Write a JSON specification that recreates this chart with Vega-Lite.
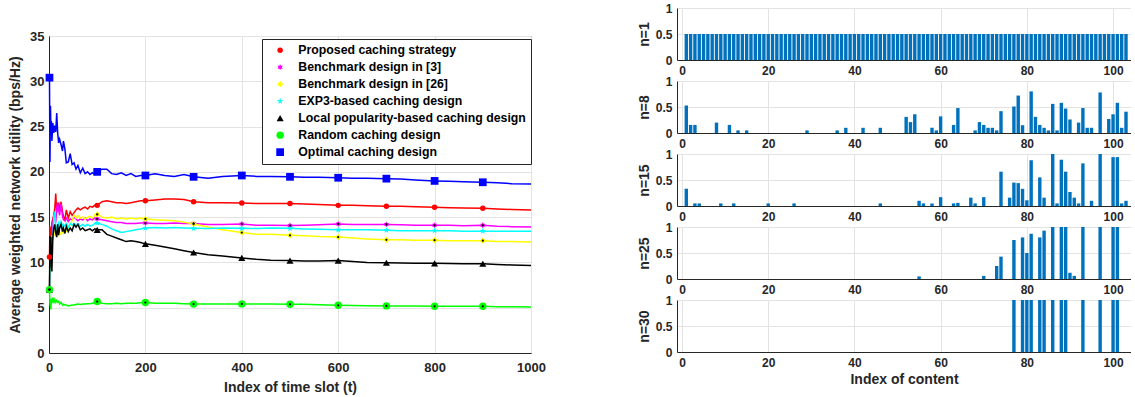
{
  "$schema": "https://vega.github.io/schema/vega-lite/v6.json",
  "padding": {"left": 8, "top": 2, "right": 0, "bottom": 0},
  "background": "white",
  "config": {
    "font": "Liberation Sans",
    "view": {"stroke": null},
    "axis": {
      "labelFont": "Liberation Sans", "labelFontWeight": "bold", "labelFontSize": 12, "labelColor": "#262626",
      "titleFont": "Liberation Sans", "titleFontWeight": "bold", "titleFontSize": 14, "titleColor": "#262626",
      "gridColor": "#e3e3e3", "domainColor": "#262626", "ticks": false, "labelPadding": 5,
      "labelFlush": false, "labelOverlap": false
    },
    "legend": {"labelFont": "Liberation Sans", "labelFontWeight": "bold", "labelFontSize": 12.3, "labelColor": "#000000", "labelLimit": 0}
  },
  "datasets": {
    "util": [
      {"t":1,"p":10.6,"b3":7,"b26":7,"e":7,"l":7,"r":7,"o":30.4},
      {"t":2,"p":14.0,"b3":10,"b26":9,"e":9.5,"l":12.9,"r":5.5,"o":21.1},
      {"t":3,"p":12.5,"b3":12,"b26":11.5,"e":12,"l":10.5,"r":5.2,"o":27.3},
      {"t":4,"p":13.8,"b3":11.2,"b26":12.5,"e":11,"l":12.8,"r":4.8,"o":24.5},
      {"t":5,"p":12.2,"b3":12.5,"b26":11,"e":12.5,"l":9.5,"r":6.0,"o":25.6},
      {"t":6,"p":14.4,"b3":13.0,"b26":12.0,"e":13.0,"l":9.0,"r":5.5,"o":23.4},
      {"t":8,"p":14.8,"b3":14.0,"b26":12.7,"e":12.5,"l":12.8,"r":6.1,"o":25.4},
      {"t":10,"p":15.2,"b3":15.5,"b26":13.0,"e":15.0,"l":13.8,"r":5.5,"o":24.3},
      {"t":12,"p":16.0,"b3":15.0,"b26":13.4,"e":15.6,"l":14.2,"r":5.9,"o":25.1},
      {"t":14,"p":17.6,"b3":14.4,"b26":14.0,"e":14.0,"l":13.2,"r":5.6,"o":24.4},
      {"t":16,"p":15.5,"b3":16.0,"b26":13.2,"e":13.2,"l":12.8,"r":5.8,"o":26.5},
      {"t":18,"p":16.3,"b3":16.6,"b26":13.0,"e":14.2,"l":14.2,"r":5.6,"o":24.3},
      {"t":20,"p":16.6,"b3":15.8,"b26":13.8,"e":14.4,"l":13.0,"r":5.7,"o":23.2},
      {"t":22,"p":15.8,"b3":15.2,"b26":13.3,"e":13.8,"l":13.8,"r":5.4,"o":23.6},
      {"t":25,"p":16.7,"b3":16.5,"b26":13.1,"e":14.5,"l":14.2,"r":5.6,"o":23.0},
      {"t":28,"p":15.6,"b3":15.1,"b26":13.6,"e":14.0,"l":13.4,"r":5.3,"o":22.3},
      {"t":30,"p":15.1,"b3":14.7,"b26":13.2,"e":14.2,"l":13.8,"r":5.4,"o":23.4},
      {"t":33,"p":14.7,"b3":14.6,"b26":13.5,"e":14.0,"l":13.2,"r":5.3,"o":22.5},
      {"t":36,"p":15.8,"b3":14.9,"b26":13.4,"e":14.3,"l":14.0,"r":5.3,"o":21.0},
      {"t":40,"p":14.9,"b3":14.5,"b26":13.8,"e":13.9,"l":13.4,"r":5.2,"o":21.1},
      {"t":44,"p":15.6,"b3":14.8,"b26":14.2,"e":14.3,"l":13.8,"r":5.25,"o":22.0},
      {"t":48,"p":15.2,"b3":14.7,"b26":14.6,"e":14.1,"l":13.5,"r":5.3,"o":20.8},
      {"t":52,"p":15.5,"b3":15.0,"b26":15.2,"e":14.3,"l":14.2,"r":5.3,"o":21.0},
      {"t":56,"p":15.8,"b3":14.8,"b26":14.9,"e":14.1,"l":13.9,"r":5.35,"o":20.3},
      {"t":60,"p":16.0,"b3":14.6,"b26":15.2,"e":14.3,"l":14.2,"r":5.4,"o":20.7},
      {"t":65,"p":15.8,"b3":14.8,"b26":14.9,"e":14.0,"l":13.6,"r":5.35,"o":19.9},
      {"t":70,"p":16.0,"b3":14.7,"b26":15.0,"e":14.2,"l":13.8,"r":5.4,"o":20.4},
      {"t":75,"p":16.1,"b3":14.9,"b26":14.8,"e":14.0,"l":13.5,"r":5.4,"o":19.8},
      {"t":80,"p":15.9,"b3":14.6,"b26":15.0,"e":14.2,"l":13.6,"r":5.45,"o":20.0},
      {"t":85,"p":16.2,"b3":14.8,"b26":15.1,"e":14.0,"l":13.7,"r":5.45,"o":19.7},
      {"t":90,"p":16.1,"b3":14.7,"b26":14.9,"e":14.1,"l":13.5,"r":5.5,"o":19.9},
      {"t":95,"p":16.3,"b3":14.9,"b26":15.2,"e":14.3,"l":13.7,"r":5.55,"o":19.7},
      {"t":100,"p":16.3,"b3":14.8,"b26":15.3,"e":14.35,"l":13.6,"r":5.68,"o":20.0},
      {"t":110,"p":16.7,"b3":14.7,"b26":15.0,"e":14.2,"l":13.6,"r":5.5,"o":20.3},
      {"t":120,"p":16.8,"b3":14.6,"b26":14.9,"e":14.0,"l":13.1,"r":5.45,"o":20.3},
      {"t":130,"p":16.7,"b3":14.5,"b26":15.0,"e":13.7,"l":12.9,"r":5.45,"o":19.8},
      {"t":140,"p":16.6,"b3":14.4,"b26":14.8,"e":13.5,"l":12.7,"r":5.5,"o":19.7},
      {"t":150,"p":16.6,"b3":14.4,"b26":14.9,"e":13.3,"l":12.5,"r":5.45,"o":19.9},
      {"t":160,"p":16.5,"b3":14.3,"b26":14.8,"e":13.4,"l":12.3,"r":5.5,"o":19.6},
      {"t":170,"p":16.6,"b3":14.3,"b26":14.9,"e":13.5,"l":12.4,"r":5.5,"o":19.8},
      {"t":180,"p":16.7,"b3":14.3,"b26":14.8,"e":13.6,"l":12.3,"r":5.5,"o":19.5},
      {"t":190,"p":16.8,"b3":14.35,"b26":14.9,"e":13.7,"l":12.2,"r":5.55,"o":19.6},
      {"t":200,"p":16.8,"b3":14.35,"b26":14.8,"e":13.8,"l":12.05,"r":5.57,"o":19.6},
      {"t":220,"p":16.9,"b3":14.3,"b26":14.7,"e":13.85,"l":11.9,"r":5.5,"o":19.8},
      {"t":240,"p":17.0,"b3":14.3,"b26":14.65,"e":13.8,"l":11.7,"r":5.5,"o":19.6},
      {"t":260,"p":17.0,"b3":14.35,"b26":14.6,"e":13.85,"l":11.5,"r":5.48,"o":19.5},
      {"t":280,"p":16.95,"b3":14.3,"b26":14.45,"e":13.8,"l":11.3,"r":5.45,"o":19.7},
      {"t":300,"p":16.7,"b3":14.3,"b26":14.25,"e":13.77,"l":11.1,"r":5.4,"o":19.45},
      {"t":330,"p":16.6,"b3":14.2,"b26":13.9,"e":13.75,"l":10.85,"r":5.4,"o":19.3},
      {"t":360,"p":16.6,"b3":14.2,"b26":13.6,"e":13.8,"l":10.7,"r":5.4,"o":19.5},
      {"t":400,"p":16.55,"b3":14.25,"b26":13.3,"e":13.77,"l":10.5,"r":5.42,"o":19.6},
      {"t":430,"p":16.5,"b3":14.1,"b26":13.1,"e":13.75,"l":10.35,"r":5.4,"o":19.5},
      {"t":460,"p":16.5,"b3":14.1,"b26":13.1,"e":13.8,"l":10.25,"r":5.4,"o":19.5},
      {"t":500,"p":16.5,"b3":14.07,"b26":13.0,"e":13.77,"l":10.2,"r":5.38,"o":19.45},
      {"t":530,"p":16.45,"b3":14.1,"b26":12.95,"e":13.7,"l":10.15,"r":5.38,"o":19.4},
      {"t":560,"p":16.4,"b3":14.15,"b26":12.85,"e":13.65,"l":10.15,"r":5.32,"o":19.4},
      {"t":600,"p":16.3,"b3":14.25,"b26":12.8,"e":13.6,"l":10.2,"r":5.27,"o":19.35},
      {"t":630,"p":16.3,"b3":14.2,"b26":12.7,"e":13.6,"l":10.1,"r":5.25,"o":19.3},
      {"t":660,"p":16.25,"b3":14.2,"b26":12.6,"e":13.6,"l":10.0,"r":5.22,"o":19.3},
      {"t":700,"p":16.2,"b3":14.2,"b26":12.5,"e":13.55,"l":9.96,"r":5.2,"o":19.25},
      {"t":730,"p":16.2,"b3":14.15,"b26":12.5,"e":13.5,"l":9.95,"r":5.2,"o":19.2},
      {"t":760,"p":16.15,"b3":14.1,"b26":12.45,"e":13.5,"l":9.92,"r":5.18,"o":19.1},
      {"t":800,"p":16.1,"b3":14.1,"b26":12.45,"e":13.5,"l":9.9,"r":5.16,"o":19.0},
      {"t":830,"p":16.05,"b3":14.1,"b26":12.4,"e":13.5,"l":9.88,"r":5.16,"o":18.95},
      {"t":860,"p":16.0,"b3":14.05,"b26":12.4,"e":13.45,"l":9.86,"r":5.15,"o":18.9},
      {"t":900,"p":15.97,"b3":14.1,"b26":12.4,"e":13.45,"l":9.85,"r":5.16,"o":18.85},
      {"t":930,"p":15.9,"b3":14.0,"b26":12.3,"e":13.45,"l":9.78,"r":5.12,"o":18.8},
      {"t":960,"p":15.85,"b3":13.95,"b26":12.3,"e":13.45,"l":9.72,"r":5.1,"o":18.7},
      {"t":1000,"p":15.8,"b3":13.9,"b26":12.25,"e":13.45,"l":9.67,"r":5.09,"o":18.65}
    ],
    "bars": [
      {"n":1,"i":1,"v":0.5},{"n":1,"i":2,"v":0.5},{"n":1,"i":3,"v":0.5},{"n":1,"i":4,"v":0.5},{"n":1,"i":5,"v":0.5},{"n":1,"i":6,"v":0.5},{"n":1,"i":7,"v":0.5},{"n":1,"i":8,"v":0.5},{"n":1,"i":9,"v":0.5},{"n":1,"i":10,"v":0.5},
      {"n":1,"i":11,"v":0.5},{"n":1,"i":12,"v":0.5},{"n":1,"i":13,"v":0.5},{"n":1,"i":14,"v":0.5},{"n":1,"i":15,"v":0.5},{"n":1,"i":16,"v":0.5},{"n":1,"i":17,"v":0.5},{"n":1,"i":18,"v":0.5},{"n":1,"i":19,"v":0.5},{"n":1,"i":20,"v":0.5},
      {"n":1,"i":21,"v":0.5},{"n":1,"i":22,"v":0.5},{"n":1,"i":23,"v":0.5},{"n":1,"i":24,"v":0.5},{"n":1,"i":25,"v":0.5},{"n":1,"i":26,"v":0.5},{"n":1,"i":27,"v":0.5},{"n":1,"i":28,"v":0.5},{"n":1,"i":29,"v":0.5},{"n":1,"i":30,"v":0.5},
      {"n":1,"i":31,"v":0.5},{"n":1,"i":32,"v":0.5},{"n":1,"i":33,"v":0.5},{"n":1,"i":34,"v":0.5},{"n":1,"i":35,"v":0.5},{"n":1,"i":36,"v":0.5},{"n":1,"i":37,"v":0.5},{"n":1,"i":38,"v":0.5},{"n":1,"i":39,"v":0.5},{"n":1,"i":40,"v":0.5},
      {"n":1,"i":41,"v":0.5},{"n":1,"i":42,"v":0.5},{"n":1,"i":43,"v":0.5},{"n":1,"i":44,"v":0.5},{"n":1,"i":45,"v":0.5},{"n":1,"i":46,"v":0.5},{"n":1,"i":47,"v":0.5},{"n":1,"i":48,"v":0.5},{"n":1,"i":49,"v":0.5},{"n":1,"i":50,"v":0.5},
      {"n":1,"i":51,"v":0.5},{"n":1,"i":52,"v":0.5},{"n":1,"i":53,"v":0.5},{"n":1,"i":54,"v":0.5},{"n":1,"i":55,"v":0.5},{"n":1,"i":56,"v":0.5},{"n":1,"i":57,"v":0.5},{"n":1,"i":58,"v":0.5},{"n":1,"i":59,"v":0.5},{"n":1,"i":60,"v":0.5},
      {"n":1,"i":61,"v":0.5},{"n":1,"i":62,"v":0.5},{"n":1,"i":63,"v":0.5},{"n":1,"i":64,"v":0.5},{"n":1,"i":65,"v":0.5},{"n":1,"i":66,"v":0.5},{"n":1,"i":67,"v":0.5},{"n":1,"i":68,"v":0.5},{"n":1,"i":69,"v":0.5},{"n":1,"i":70,"v":0.5},
      {"n":1,"i":71,"v":0.5},{"n":1,"i":72,"v":0.5},{"n":1,"i":73,"v":0.5},{"n":1,"i":74,"v":0.5},{"n":1,"i":75,"v":0.5},{"n":1,"i":76,"v":0.5},{"n":1,"i":77,"v":0.5},{"n":1,"i":78,"v":0.5},{"n":1,"i":79,"v":0.5},{"n":1,"i":80,"v":0.5},
      {"n":1,"i":81,"v":0.5},{"n":1,"i":82,"v":0.5},{"n":1,"i":83,"v":0.5},{"n":1,"i":84,"v":0.5},{"n":1,"i":85,"v":0.5},{"n":1,"i":86,"v":0.5},{"n":1,"i":87,"v":0.5},{"n":1,"i":88,"v":0.5},{"n":1,"i":89,"v":0.5},{"n":1,"i":90,"v":0.5},
      {"n":1,"i":91,"v":0.5},{"n":1,"i":92,"v":0.5},{"n":1,"i":93,"v":0.5},{"n":1,"i":94,"v":0.5},{"n":1,"i":95,"v":0.5},{"n":1,"i":96,"v":0.5},{"n":1,"i":97,"v":0.5},{"n":1,"i":98,"v":0.5},{"n":1,"i":99,"v":0.5},{"n":1,"i":100,"v":0.5},
      {"n":1,"i":101,"v":0.5},{"n":1,"i":102,"v":0.5},{"n":1,"i":103,"v":0.5},
      {"n":8,"i":1,"v":0.53},{"n":8,"i":2,"v":0.155},{"n":8,"i":3,"v":0.155},{"n":8,"i":8,"v":0.2},{"n":8,"i":11,"v":0.155},{"n":8,"i":13,"v":0.05},{"n":8,"i":15,"v":0.05},{"n":8,"i":29,"v":0.05},{"n":8,"i":36,"v":0.05},{"n":8,"i":38,"v":0.1},
      {"n":8,"i":42,"v":0.1},{"n":8,"i":46,"v":0.1},{"n":8,"i":52,"v":0.31},{"n":8,"i":53,"v":0.21},{"n":8,"i":54,"v":0.36},{"n":8,"i":58,"v":0.1},{"n":8,"i":59,"v":0.05},{"n":8,"i":60,"v":0.32},{"n":8,"i":63,"v":0.155},{"n":8,"i":64,"v":0.48},
      {"n":8,"i":68,"v":0.05},{"n":8,"i":69,"v":0.21},{"n":8,"i":70,"v":0.155},{"n":8,"i":71,"v":0.1},{"n":8,"i":72,"v":0.1},{"n":8,"i":73,"v":0.05},{"n":8,"i":74,"v":0.42},{"n":8,"i":77,"v":0.51},{"n":8,"i":78,"v":0.72},{"n":8,"i":79,"v":0.15},
      {"n":8,"i":81,"v":0.8},{"n":8,"i":82,"v":0.31},{"n":8,"i":83,"v":0.155},{"n":8,"i":84,"v":0.1},{"n":8,"i":85,"v":0.05},{"n":8,"i":86,"v":0.56},{"n":8,"i":87,"v":0.05},{"n":8,"i":88,"v":0.58},{"n":8,"i":89,"v":0.47},{"n":8,"i":90,"v":0.26},
      {"n":8,"i":92,"v":0.2},{"n":8,"i":93,"v":0.48},{"n":8,"i":94,"v":0.1},{"n":8,"i":95,"v":0.1},{"n":8,"i":97,"v":0.78},{"n":8,"i":99,"v":0.27},{"n":8,"i":100,"v":0.36},{"n":8,"i":101,"v":0.58},{"n":8,"i":102,"v":0.1},{"n":8,"i":103,"v":0.41},
      {"n":15,"i":1,"v":0.33},{"n":15,"i":3,"v":0.05},{"n":15,"i":4,"v":0.05},{"n":15,"i":9,"v":0.05},{"n":15,"i":12,"v":0.05},{"n":15,"i":20,"v":0.05},{"n":15,"i":26,"v":0.05},{"n":15,"i":46,"v":0.05},{"n":15,"i":55,"v":0.1},{"n":15,"i":56,"v":0.05},
      {"n":15,"i":58,"v":0.05},{"n":15,"i":60,"v":0.17},{"n":15,"i":63,"v":0.05},{"n":15,"i":64,"v":0.06},{"n":15,"i":67,"v":0.16},{"n":15,"i":68,"v":0.05},{"n":15,"i":70,"v":0.17},{"n":15,"i":74,"v":0.66},{"n":15,"i":76,"v":0.16},{"n":15,"i":77,"v":0.45},
      {"n":15,"i":78,"v":0.44},{"n":15,"i":79,"v":0.33},{"n":15,"i":80,"v":0.11},{"n":15,"i":81,"v":0.88},{"n":15,"i":83,"v":0.55},{"n":15,"i":84,"v":0.16},{"n":15,"i":86,"v":1},{"n":15,"i":87,"v":0.05},{"n":15,"i":88,"v":0.89},{"n":15,"i":89,"v":0.66},
      {"n":15,"i":90,"v":0.27},{"n":15,"i":91,"v":0.16},{"n":15,"i":92,"v":0.05},{"n":15,"i":93,"v":0.82},{"n":15,"i":95,"v":0.1},{"n":15,"i":97,"v":1},{"n":15,"i":100,"v":0.94},{"n":15,"i":101,"v":0.94},{"n":15,"i":102,"v":0.05},{"n":15,"i":103,"v":0.1},
      {"n":25,"i":55,"v":0.05},{"n":25,"i":70,"v":0.06},{"n":25,"i":73,"v":0.25},{"n":25,"i":74,"v":0.43},{"n":25,"i":77,"v":0.75},{"n":25,"i":79,"v":0.8},{"n":25,"i":80,"v":0.5},{"n":25,"i":81,"v":0.87},{"n":25,"i":83,"v":0.8},{"n":25,"i":84,"v":0.93},
      {"n":25,"i":86,"v":1},{"n":25,"i":88,"v":1},{"n":25,"i":89,"v":1},{"n":25,"i":90,"v":0.12},{"n":25,"i":91,"v":0.06},{"n":25,"i":93,"v":1},{"n":25,"i":97,"v":1},{"n":25,"i":100,"v":1},{"n":25,"i":101,"v":1},
      {"n":30,"i":77,"v":1},{"n":30,"i":79,"v":1},{"n":30,"i":80,"v":1},{"n":30,"i":81,"v":1},{"n":30,"i":83,"v":1},{"n":30,"i":84,"v":1},{"n":30,"i":86,"v":1},{"n":30,"i":88,"v":1},{"n":30,"i":89,"v":1},{"n":30,"i":93,"v":1},
      {"n":30,"i":97,"v":1},{"n":30,"i":100,"v":1},{"n":30,"i":101,"v":1}
    ]
  },
  "spacing": 91,
  "hconcat": [
    {
      "bounds": "flush",
      "spacing": 0,
      "vconcat": [
        {"width": 482, "height": 28, "data": {"values": []}, "mark": "point"},
        {
          "width": 482, "height": 317,
          "view": {"stroke": "#262626", "strokeWidth": 1},
          "data": {"name": "util"},
          "transform": [{"fold": ["p","b3","b26","e","l","r","o"], "as": ["s","v"]}],
          "encoding": {
            "x": {"field": "t", "type": "quantitative", "scale": {"domain": [0,1000], "nice": false},
                  "axis": {"values": [0,200,400,600,800,1000], "format": "d", "title": "Index of time slot (t)", "labelFontSize": 13, "labelPadding": 8, "titlePadding": 6}},
            "y": {"field": "v", "type": "quantitative", "scale": {"domain": [0,35], "nice": false},
                  "axis": {"values": [0,5,10,15,20,25,30,35], "title": "Average weighted network utility (bps/Hz)", "labelFontSize": 13, "labelPadding": 5, "titlePadding": 7}},
            "color": {"field": "s", "type": "nominal",
                      "scale": {"domain": ["p","b3","b26","e","l","r","o"], "range": ["#FF0000","#FF00FF","#FFFF00","#00FFFF","#000000","#00FF00","#0000FF"]},
                      "legend": {"title": null, "orient": "none", "legendX": 213, "legendY": 31,
                                 "fillColor": "white", "strokeColor": "#262626", "padding": 5, "rowPadding": 4,
                                 "symbolOffset": 7, "labelOffset": 12, "symbolSize": 36, "symbolStrokeWidth": 0, "symbolType": "circle",
                                 "labelExpr": "datum.label == 'p' ? 'Proposed caching strategy' : datum.label == 'b3' ? 'Benchmark design in [3]' : datum.label == 'b26' ? 'Benchmark design in [26]' : datum.label == 'e' ? 'EXP3-based caching design' : datum.label == 'l' ? 'Local popularity-based caching design' : datum.label == 'r' ? 'Random caching design' : 'Optimal caching design'"}}
          },
          "layer": [
            {
              "mark": {"type": "line", "strokeWidth": 1.5}
            },
            {
              "transform": [{"filter": "datum.t == 1 || (datum.t % 100 == 0 && datum.t < 1000)"}],
              "mark": {"type": "point", "filled": true, "opacity": 1},
              "encoding": {
                "shape": {"field": "s", "type": "nominal", "legend": null,
                          "scale": {"domain": ["p","b3","b26","e","l","r","o"],
                                    "range": ["circle",
                                              "M0,-1L0.29,-0.5L0.87,-0.5L0.58,0L0.87,0.5L0.29,0.5L0,1L-0.29,0.5L-0.87,0.5L-0.58,0L-0.87,-0.5L-0.29,-0.5Z",
                                              "diamond",
                                              "M0,-1L0.235,-0.324L0.951,-0.309L0.38,0.124L0.588,0.809L0,0.4L-0.588,0.809L-0.38,0.124L-0.951,-0.309L-0.235,-0.324Z",
                                              "triangle-up", "circle", "square"]}},
                "size": {"field": "s", "type": "nominal", "legend": null,
                         "scale": {"domain": ["p","b3","b26","e","l","r","o"], "range": [30,60,45,80,60,45,36]}}
              }
            },
            {
              "transform": [{"filter": "(datum.t == 1 || (datum.t % 100 == 0 && datum.t < 1000)) && (datum.s == 'b26' || datum.s == 'r' || datum.s == 'b3')"}],
              "mark": {"type": "circle", "color": "#000000", "size": 5, "opacity": 1},
              "encoding": {"color": {"value": "#000000"}}
            }
          ]
        }
      ]
    },
    {
      "bounds": "flush",
      "spacing": 21,
      "vconcat": [
        {"width": 454, "height": 52, "data": {"name": "bars"}, "transform": [{"filter": "datum.n == 1"}],
         "mark": {"type": "bar", "width": 3.4, "color": "#0072BD"},
         "encoding": {
           "x": {"field": "i", "type": "quantitative", "scale": {"domain": [0,103], "nice": false}, "axis": {"values": [0,20,40,60,80,100], "title": null}},
           "y": {"field": "v", "type": "quantitative", "scale": {"domain": [0,1], "nice": false}, "axis": {"values": [0,0.5,1], "format": "~g", "title": "n=1", "titlePadding": 4}}}},
        {"width": 454, "height": 52, "data": {"name": "bars"}, "transform": [{"filter": "datum.n == 8"}],
         "mark": {"type": "bar", "width": 3.4, "color": "#0072BD"},
         "encoding": {
           "x": {"field": "i", "type": "quantitative", "scale": {"domain": [0,103], "nice": false}, "axis": {"values": [0,20,40,60,80,100], "title": null}},
           "y": {"field": "v", "type": "quantitative", "scale": {"domain": [0,1], "nice": false}, "axis": {"values": [0,0.5,1], "format": "~g", "title": "n=8", "titlePadding": 4}}}},
        {"width": 454, "height": 52, "data": {"name": "bars"}, "transform": [{"filter": "datum.n == 15"}],
         "mark": {"type": "bar", "width": 3.4, "color": "#0072BD"},
         "encoding": {
           "x": {"field": "i", "type": "quantitative", "scale": {"domain": [0,103], "nice": false}, "axis": {"values": [0,20,40,60,80,100], "title": null}},
           "y": {"field": "v", "type": "quantitative", "scale": {"domain": [0,1], "nice": false}, "axis": {"values": [0,0.5,1], "format": "~g", "title": "n=15", "titlePadding": 4}}}},
        {"width": 454, "height": 52, "data": {"name": "bars"}, "transform": [{"filter": "datum.n == 25"}],
         "mark": {"type": "bar", "width": 3.4, "color": "#0072BD"},
         "encoding": {
           "x": {"field": "i", "type": "quantitative", "scale": {"domain": [0,103], "nice": false}, "axis": {"values": [0,20,40,60,80,100], "title": null}},
           "y": {"field": "v", "type": "quantitative", "scale": {"domain": [0,1], "nice": false}, "axis": {"values": [0,0.5,1], "format": "~g", "title": "n=25", "titlePadding": 4}}}},
        {"width": 454, "height": 52, "data": {"name": "bars"}, "transform": [{"filter": "datum.n == 30"}],
         "mark": {"type": "bar", "width": 3.4, "color": "#0072BD"},
         "encoding": {
           "x": {"field": "i", "type": "quantitative", "scale": {"domain": [0,103], "nice": false}, "axis": {"values": [0,20,40,60,80,100], "title": "Index of content", "titlePadding": 4}},
           "y": {"field": "v", "type": "quantitative", "scale": {"domain": [0,1], "nice": false}, "axis": {"values": [0,0.5,1], "format": "~g", "title": "n=30", "titlePadding": 4}}}}
      ]
    }
  ]
}
